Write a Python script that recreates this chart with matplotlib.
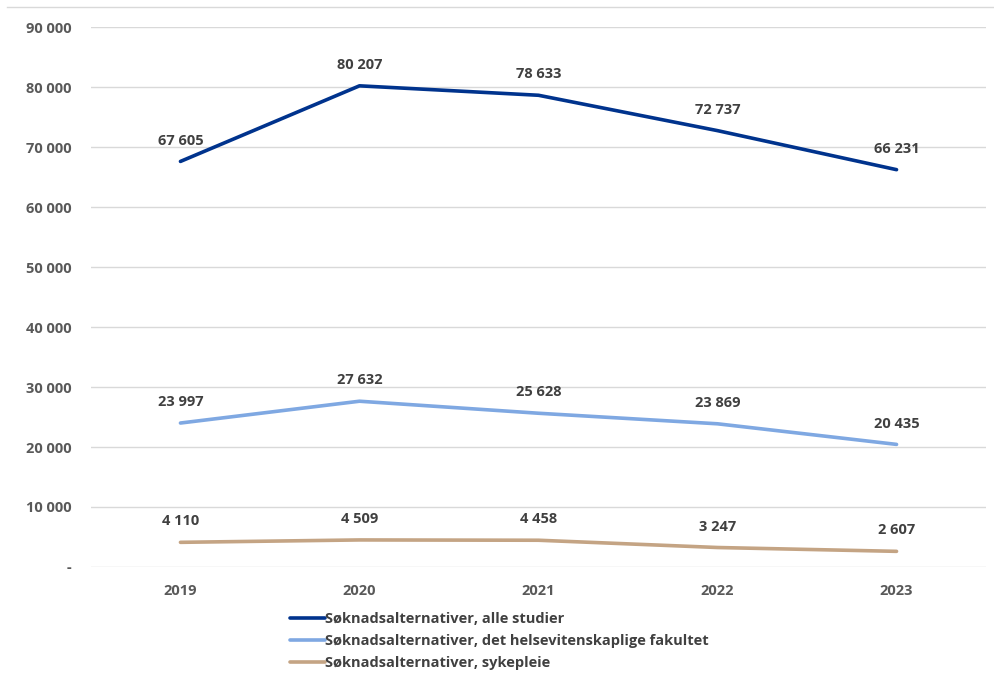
import matplotlib.pyplot as plt
from matplotlib.lines import Line2D
from matplotlib.ticker import FuncFormatter

years = ["2019", "2020", "2021", "2022", "2023"]
alle_studier = [67605, 80207, 78633, 72737, 66231]
helsefak = [23997, 27632, 25628, 23869, 20435]
sykepleie = [4110, 4509, 4458, 3247, 2607]

labels = [
    "Søknadsalternativer, alle studier",
    "Søknadsalternativer, det helsevitenskaplige fakultet",
    "Søknadsalternativer, sykepleie",
]
colors = ["#00338D", "#7FA8E2", "#C4A484"]
grey = "#595959"

plt.rcParams["font.family"] = ["Open Sans", "DejaVu Sans"]
plt.rcParams["font.weight"] = "bold"

fig = plt.figure(figsize=(9.94, 6.77), dpi=100)
ax = fig.add_axes([0.0915, 0.1625, 0.9005, 0.7975])

x = list(range(len(years)))
for series, label, color in zip([alle_studier, helsefak, sykepleie], labels, colors):
    ax.plot(x, series, color=color, lw=2.6, label=label, solid_capstyle="round")
    for xi, v in zip(x, series):
        ax.annotate(f"{v:,}".replace(",", " "), (xi, v), xytext=(0, 10),
                    textcoords="offset points", ha="center", va="bottom",
                    fontsize=10.5, fontweight="bold", color="#404040")

ax.set_xlim(-0.5, 4.5)
ax.set_ylim(0, 90000)
ax.set_yticks(range(0, 90001, 10000))
ax.yaxis.set_major_formatter(FuncFormatter(
    lambda v, p: "-" if v == 0 else f"{int(v):,}".replace(",", " ")))
ax.set_xticks(x)
ax.set_xticklabels(years)
ax.tick_params(axis="both", length=0, colors=grey, labelsize=10.5)
ax.tick_params(axis="y", pad=14)
ax.tick_params(axis="x", pad=12)
for lab in ax.get_xticklabels() + ax.get_yticklabels():
    lab.set_fontweight("bold")
ax.grid(axis="y", color="#D9D9D9", lw=1)
ax.set_axisbelow(True)
for s in ax.spines.values():
    s.set_visible(False)

# thin border line at the top of the chart area
fig.add_artist(Line2D([0.007, 1.0], [0.990, 0.990], color="#D9D9D9", lw=1))

leg = fig.legend(loc="upper left", bbox_to_anchor=(0.286, 0.105), frameon=False,
                 handlelength=2.4, handletextpad=0.0, labelspacing=0.55,
                 borderaxespad=0, prop={"size": 10.5, "weight": "bold"})
for t in leg.get_texts():
    t.set_color("#404040")

fig.savefig("out.png", dpi=100)
